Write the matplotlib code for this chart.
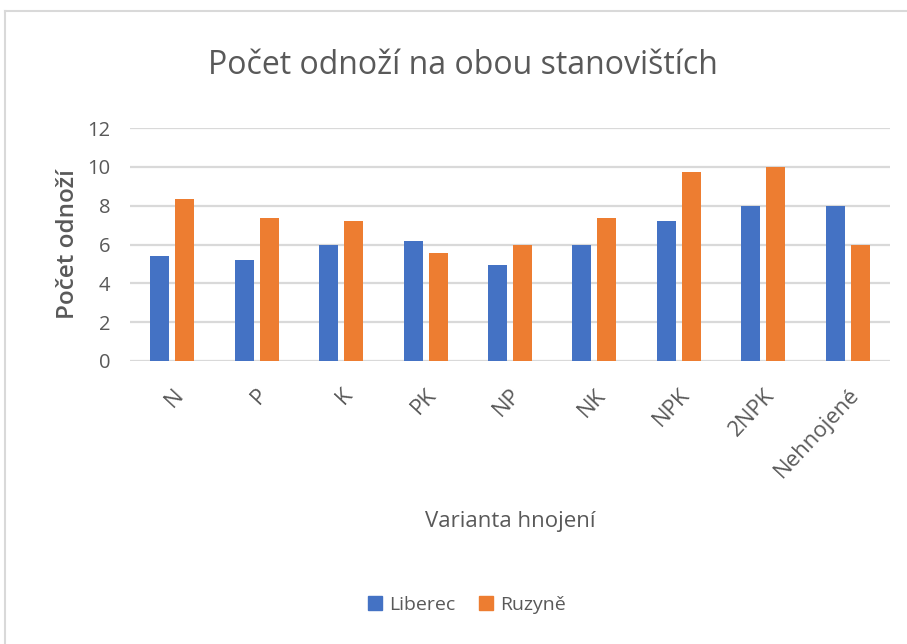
import matplotlib.pyplot as plt
import numpy as np
from matplotlib.lines import Line2D

# Data
categories = ['N', 'P', 'K', 'PK', 'NP', 'NK', 'NPK', '2NPK', 'Nehnojené']
liberec = [5.4, 5.2, 6.0, 6.2, 4.95, 6.0, 7.2, 8.0, 8.0]
ruzyne = [8.35, 7.35, 7.2, 5.55, 6.0, 7.35, 9.75, 10.0, 6.0]
series_names = ['Liberec', 'Ruzyně']
yticks = [0, 2, 4, 6, 8, 10, 12]

plt.rcParams['font.family'] = ['Open Sans', 'DejaVu Sans']
gray = '#595959'

fig = plt.figure(figsize=(9.07, 6.44), dpi=100)
ax = fig.add_axes([130 / 907, 1 - 361 / 644, 760 / 907, 233 / 644])

x = np.arange(len(categories))
w = 0.225
off = 0.148
ax.bar(x - off, liberec, w, color='#4472C4', label=series_names[0], zorder=3)
ax.bar(x + off, ruzyne, w, color='#ED7D31', label=series_names[1], zorder=3)

ax.set_xlim(-0.5, len(categories) - 0.5)
ax.set_ylim(0, 12)
ax.set_yticks(yticks)
ax.grid(axis='y', color='#D9D9D9', linewidth=1.6, zorder=0)
for s in ax.spines.values():
    s.set_visible(False)
ax.tick_params(axis='both', length=0, colors=gray)
ax.tick_params(axis='y', labelsize=14.5, pad=14)
ax.set_xticks(x)
ax.set_xticklabels(categories, rotation=47, ha='right', rotation_mode='anchor',
                   fontsize=16, color=gray)
ax.tick_params(axis='x', pad=17)

ax.set_ylabel('Počet odnoží', fontsize=17.5, color=gray, fontweight='semibold', labelpad=5)
fig.text(510 / 907, 1 - 521 / 644, 'Varianta hnojení', fontsize=16, color=gray,
         ha='center', va='center')
fig.text(463 / 907, 1 - 66 / 644, 'Počet odnoží na obou stanovištích', fontsize=23,
         color=gray, ha='center', va='center')

handles = [plt.Rectangle((0, 0), 1, 1, color='#4472C4'),
           plt.Rectangle((0, 0), 1, 1, color='#ED7D31')]
fig.legend(handles, series_names, loc='center', bbox_to_anchor=(467 / 907, 1 - 605 / 644),
           ncol=2, frameon=False, fontsize=14, handlelength=0.7, handleheight=0.7,
           handletextpad=0.4, columnspacing=1.2, labelcolor=gray)

# outer chart frame (top and left edges)
fig.add_artist(Line2D([5 / 907, 1], [1 - 11 / 644, 1 - 11 / 644], color='#D9D9D9', linewidth=1.5))
fig.add_artist(Line2D([5 / 907, 5 / 907], [0, 1 - 11 / 644], color='#D9D9D9', linewidth=1.5))

fig.savefig('out.png', dpi=100)
